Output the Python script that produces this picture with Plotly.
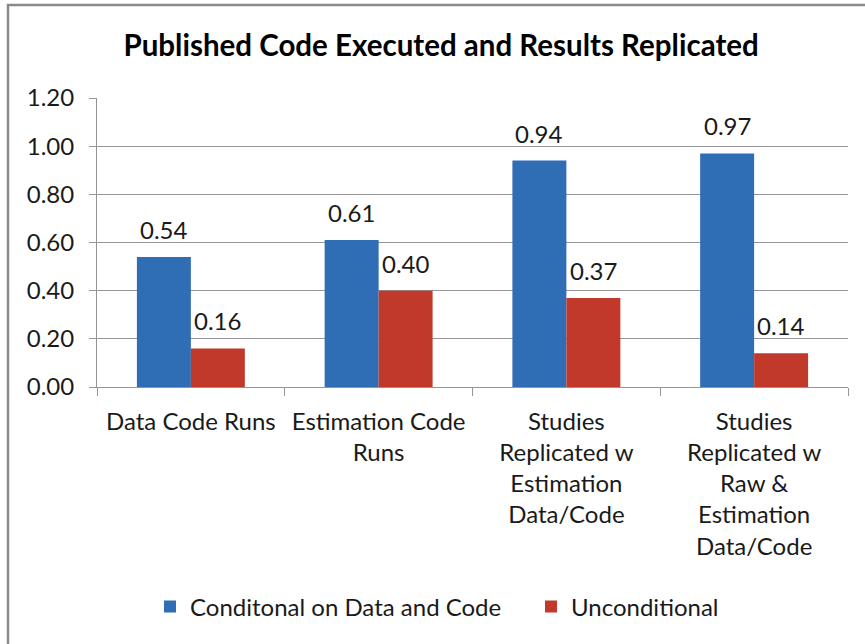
import plotly.graph_objects as go

categories = [
    "Data Code Runs",
    "Estimation Code<br>Runs",
    "Studies<br>Replicated w<br>Estimation<br>Data/Code",
    "Studies<br>Replicated w<br>Raw &<br>Estimation<br>Data/Code",
]
conditional = [0.54, 0.61, 0.94, 0.97]
unconditional = [0.16, 0.40, 0.37, 0.14]
y_ticks = [0.0, 0.2, 0.4, 0.6, 0.8, 1.0, 1.2]
y_tick_labels = ["0.00", "0.20", "0.40", "0.60", "0.80", "1.00", "1.20"]

FONT = "Lato, Calibri, Carlito, sans-serif"
TXT = "#1a1a1a"

fig = go.Figure()
fig.add_trace(go.Bar(
    name="Conditonal on Data and Code", x=categories, y=conditional,
    marker=dict(color="#2F6DB5", line=dict(width=0)), legend="legend",
))
fig.add_trace(go.Bar(
    name="Unconditional", x=categories, y=unconditional,
    marker=dict(color="#C0392B", line=dict(width=0)), legend="legend2",
))

# value labels placed above each bar (half a bar width left/right of the category centre)
for series, shift in ((conditional, -27), (unconditional, 27)):
    for cat, v in zip(categories, series):
        fig.add_annotation(x=cat, y=v, text=f"{v:.2f}", showarrow=False,
                           xshift=shift, yshift=11, yanchor="bottom",
                           font=dict(size=24, family=FONT, color=TXT))

pw, ph = 751, 289
leg_common = dict(orientation="h", yanchor="middle", y=(387 - 607) / ph,
                  xanchor="left", font=dict(size=24, family=FONT, color=TXT),
                  itemwidth=30, bgcolor="rgba(0,0,0,0)")

fig.update_layout(
    width=865, height=644,
    margin=dict(l=97, r=17, t=98, b=257, autoexpand=False),
    paper_bgcolor="white", plot_bgcolor="white",
    font=dict(family=FONT, size=24, color=TXT),
    title=dict(text="<b>Published Code Executed and Results Replicated</b>",
               x=0.51, xanchor="center", y=1 - 46 / 644, yanchor="middle",
               font=dict(size=29.5, family=FONT, color="black")),
    barmode="group", bargap=0.425, bargroupgap=0,
    legend=dict(leg_common, x=(150 - 97) / pw),
    legend2=dict(leg_common, x=(531 - 97) / pw),
    showlegend=True,
)
fig.update_yaxes(
    range=[0, 1.2], tickvals=y_ticks, ticktext=y_tick_labels,
    showgrid=True, gridcolor="#959595", gridwidth=1,
    showline=True, linecolor="#959595", linewidth=1,
    ticks="outside", ticklen=7, tickcolor="#959595", ticklabelstandoff=10,
    tickfont=dict(size=24, family=FONT, color=TXT), zeroline=False, automargin=False,
)
fig.update_xaxes(
    showline=True, linecolor="#959595", linewidth=1,
    ticks="outside", ticklen=8, tickcolor="#959595", tickson="boundaries",
    ticklabelstandoff=13, automargin=False,
    tickfont=dict(size=24, family=FONT, color=TXT), tickangle=0,
)

# outer chart frame (left and top edges visible, others run off the page)
fig.add_shape(type="rect", xref="paper", yref="paper",
              x0=(8 - 97) / pw, x1=(880 - 97) / pw,
              y0=(387 - 670) / ph, y1=(387 - 5) / ph,
              line=dict(color="#8a8a8a", width=2.5), fillcolor="rgba(0,0,0,0)", layer="below")

fig.write_html("out.html", config={"displayModeBar": False},
               post_script="document.body.style.margin='0';document.body.style.overflow='hidden';")
